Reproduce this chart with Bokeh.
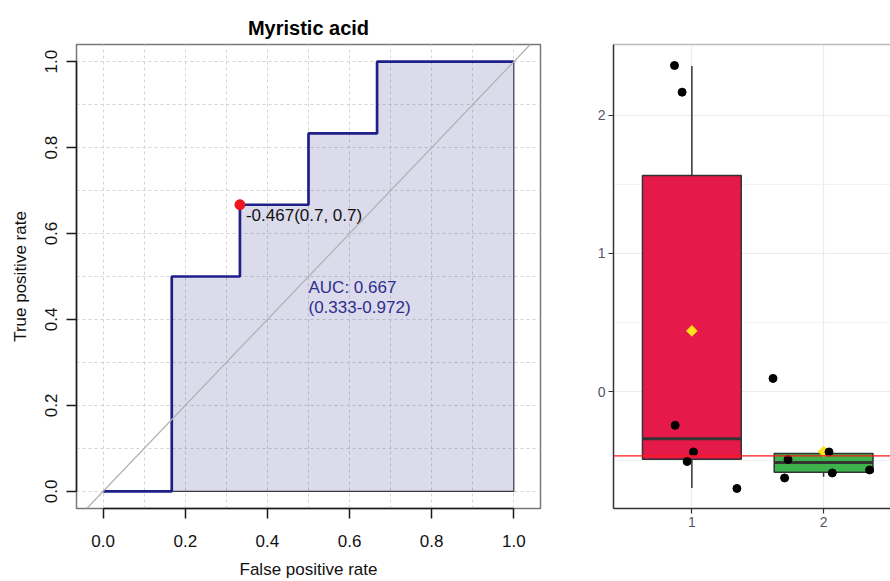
import math
from bokeh.plotting import figure
from bokeh.layouts import row
from bokeh.models import FixedTicker, Range1d, Slope, Span, LinearAxis, PrintfTickFormatter
from bokeh.core.properties import value
from bokeh.embed import file_html
from bokeh.resources import INLINE

FONT = "Liberation Sans"

# ---------------- ROC data ----------------
roc_title = "Myristic acid"
roc_fpr = [0.0, 0.167, 0.167, 0.333, 0.333, 0.5, 0.5, 0.667, 0.667, 1.0]
roc_tpr = [0.0, 0.0, 0.5, 0.5, 0.667, 0.667, 0.833, 0.833, 1.0, 1.0]
best_fpr = [0.333]
best_tpr = [0.667]
best_label = ["-0.467(0.7, 0.7)"]
auc_value = 0.667
auc_ci_low = 0.333
auc_ci_high = 0.972
roc_ticks = [0.0, 0.2, 0.4, 0.6, 0.8, 1.0]
roc_grid = [0.0, 0.1, 0.2, 0.3, 0.4, 0.5, 0.6, 0.7, 0.8, 0.9, 1.0]

# ---------------- Box plot data ----------------
groups = [1, 2]
group_labels = ["1", "2"]
box_q1 = [-0.488, -0.583]
box_median = [-0.34, -0.512]
box_q3 = [1.564, -0.447]
whisker_low = [-0.697, -0.615]
whisker_high = [2.357, -0.436]
box_mean = [0.44, -0.433]
box_colors = ["#E6194B", "#3CB44B"]
pt_group = [1, 1, 1, 1, 1, 1, 2, 2, 2, 2, 2, 2]
pt_jitter = [-0.132, -0.074, -0.127, 0.012, -0.036, 0.342,
             -0.384, 0.041, -0.27, -0.296, 0.066, 0.349]
pt_value = [2.36, 2.167, -0.243, -0.436, -0.505, -0.70,
            0.096, -0.436, -0.49, -0.624, -0.588, -0.566]
ref_line = -0.464
box_y_ticks = [0, 1, 2]
box_y_minor = [-0.5, 0.5, 1.5]

# ================= Left: ROC =================
NAVY = "#1F1F8A"
p1 = figure(width=560, height=581, x_range=Range1d(-0.065, 1.065), y_range=Range1d(-0.04, 1.04),
            output_backend="svg", toolbar_location=None,
            min_border_left=76, min_border_right=20, min_border_top=44, min_border_bottom=72,
            outline_line_color="#777777", outline_line_width=1.5)
p1.title.text = roc_title
p1.title.align = "center"
p1.title.text_font = FONT
p1.title.text_font_size = "20px"
p1.title.text_font_style = "bold"
p1.title.text_color = "#000000"
p1.title.standoff = 11

for ax in (p1.xaxis[0], p1.yaxis[0]):
    ax.ticker = FixedTicker(ticks=roc_ticks)
    ax.formatter = PrintfTickFormatter(format="%.1f")
    ax.bounds = (0, 1)
    ax.axis_line_color = "#1A1A1A"
    ax.axis_line_width = 1.5
    ax.major_tick_line_color = "#1A1A1A"
    ax.major_tick_line_width = 1.5
    ax.major_tick_out = 10
    ax.major_tick_in = 0
    ax.minor_tick_line_color = None
    ax.major_label_text_font = FONT
    ax.major_label_text_font_size = "17px"
    ax.major_label_text_color = "#111111"
    ax.axis_label_text_font = FONT
    ax.axis_label_text_font_size = "17px"
    ax.axis_label_text_font_style = "normal"
    ax.axis_label_text_color = "#111111"

p1.xaxis.axis_label = "False positive rate"
p1.yaxis.axis_label = "True positive rate"
p1.xaxis.major_label_standoff = 16
p1.xaxis.axis_label_standoff = 10
p1.yaxis.major_label_orientation = "parallel"
p1.yaxis.major_label_standoff = 9
p1.yaxis.axis_label_standoff = 13

for g in (p1.xgrid[0], p1.ygrid[0]):
    g.ticker = FixedTicker(ticks=roc_grid)
    g.grid_line_color = "#D4D4D4"
    g.grid_line_dash = "3 3"
    g.grid_line_width = 1

# AUC polygon
poly_x = roc_fpr + [roc_fpr[-1], roc_fpr[0]]
poly_y = roc_tpr + [0.0, 0.0]
p1.patch(poly_x, poly_y, fill_color=NAVY, fill_alpha=0.16, line_color="#3A3A4A", line_width=1.2)

# chance diagonal
p1.add_layout(Slope(gradient=1, y_intercept=0, line_color="#B0B0B0", line_width=1.2))

# ROC curve
p1.line(roc_fpr, roc_tpr, line_color=NAVY, line_width=2.7)

# best threshold
p1.scatter(best_fpr, best_tpr, size=10, fill_color="#F0141E", line_color="#F0141E")
p1.text(best_fpr, best_tpr, text=best_label, x_offset=6, y_offset=11,
        text_align="left", text_baseline="middle", text_font=value(FONT),
        text_font_size="17px", text_color="#111111")

auc_text = "AUC: %.3f\n(%.3f-%.3f)" % (auc_value, auc_ci_low, auc_ci_high)
p1.text([0.5], [0.497], text=[auc_text], text_align="left", text_baseline="top",
        text_font=value(FONT), text_font_size="17px", text_color="#2E2E8E",
        text_line_height=1.08)

# ================= Right: box plot =================
p2 = figure(width=330, height=581, x_range=Range1d(0.405, 2.508), y_range=Range1d(-0.845, 2.512),
            output_backend="svg", toolbar_location=None,
            min_border_left=53, min_border_right=0, min_border_top=40, min_border_bottom=71,
            outline_line_color=None)

xax = p2.below[0]
yax = p2.left[0]
xax.ticker = FixedTicker(ticks=groups)
xax.major_label_overrides = {g: l for g, l in zip(groups, group_labels)}
yax.ticker = FixedTicker(ticks=box_y_ticks)
for ax in (xax, yax):
    ax.axis_line_color = "#333333"
    ax.axis_line_width = 1.5
    ax.major_tick_line_color = "#333333"
    ax.major_tick_line_width = 1.2
    ax.major_tick_out = 5
    ax.major_tick_in = 0
    ax.minor_tick_line_color = None
    ax.major_label_text_font = FONT
    ax.major_label_text_font_size = "14px"
    ax.major_label_text_color = "#555566"
    ax.major_label_standoff = 3

top_ax = LinearAxis(ticker=FixedTicker(ticks=[]), major_label_text_font_size="0px",
                    major_tick_line_color=None, minor_tick_line_color=None,
                    axis_line_color="#BDBDBD", axis_line_width=1.5)
p2.add_layout(top_ax, "above")

p2.xgrid[0].ticker = FixedTicker(ticks=groups)
p2.ygrid[0].ticker = FixedTicker(ticks=box_y_ticks, minor_ticks=box_y_minor)
for g in (p2.xgrid[0], p2.ygrid[0]):
    g.grid_line_color = "#EBEBEB"
    g.grid_line_width = 1.2
p2.ygrid[0].minor_grid_line_color = "#F2F2F2"
p2.ygrid[0].minor_grid_line_width = 1

# whiskers
p2.segment(groups, box_q3, groups, whisker_high, line_color="#333333", line_width=1.5)
p2.segment(groups, box_q1, groups, whisker_low, line_color="#333333", line_width=1.5)
# boxes
p2.vbar(x=groups, width=0.75, bottom=box_q1, top=box_q3, fill_color=box_colors,
        line_color="#333333", line_width=1.5)
# medians
p2.segment([g - 0.375 for g in groups], box_median, [g + 0.375 for g in groups], box_median,
           line_color="#333333", line_width=3)

# reference line
p2.add_layout(Span(location=ref_line, dimension="width", line_color="#FF1A1A", line_width=1.2))

# means
p2.scatter(groups, box_mean, marker="square", angle=math.pi / 4, size=7.5,
           fill_color="#FFE119", line_color="#FFE119")

# jittered points
pt_x = [g + j for g, j in zip(pt_group, pt_jitter)]
p2.scatter(pt_x, pt_value, size=8, fill_color="#000000", line_color="#000000")

layout = row(p1, p2)
open("out.html", "w").write(file_html(layout, INLINE))
